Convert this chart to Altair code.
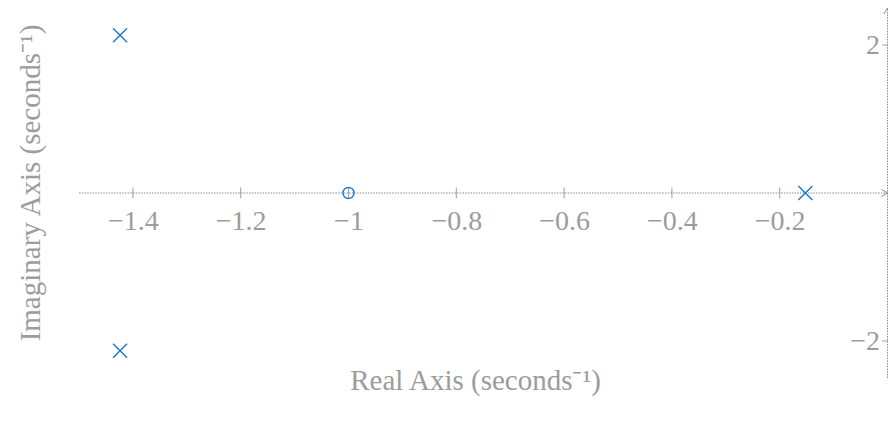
import altair as alt
import pandas as pd

# ---- data ----
pole_re = [-1.4238, -1.4238, -0.1524]
pole_im = [2.1331, -2.1331, 0.0]
zero_re = [-1.0]
zero_im = [0.0]
x_ticks = [-1.4, -1.2, -1.0, -0.8, -0.6, -0.4, -0.2]
y_ticks = [-2, 2]
x_domain = [-1.5, 0.0]
y_domain = [-2.5, 2.5]

W, H = 808.5, 370
PAD_L = 71
FONT = "Liberation Serif"
TXT = "#9c9c9c"
AX = "#8a8a8a"
BLUE = "#1a78d0"

poles = pd.DataFrame({"re": pole_re, "im": pole_im})
zeros = pd.DataFrame({"re": zero_re, "im": zero_im})
xaxis_line = pd.DataFrame({"re": [x_domain[0]], "re2": [x_domain[1]], "im": [0.0]})
yaxis_line = pd.DataFrame({"re": [x_domain[1]], "im": [y_domain[0]], "im2": [y_domain[1]]})
xt = pd.DataFrame({"re": x_ticks, "im": [0.0] * len(x_ticks)})
yt = pd.DataFrame({"re": [0.0] * len(y_ticks), "im": y_ticks})
arrow_x = pd.DataFrame({"re": [x_domain[1]], "im": [0.0]})
arrow_y = pd.DataFrame({"re": [x_domain[1]], "im": [y_domain[1]]})

minus_expr = "replace(format(datum.value, ''), '-', '\u2212')"


def X():
    return alt.X(
        "re:Q",
        scale=alt.Scale(domain=x_domain, nice=False, zero=False),
        axis=alt.Axis(
            values=x_ticks, orient="bottom", offset=-H / 2, domain=False,
            ticks=False, tickSize=0, grid=False,
            labelFont=FONT, labelFontSize=28, labelColor=TXT,
            labelPadding=36, labelBaseline="alphabetic", labelExpr=minus_expr,
            title="Real Axis (seconds\u207b\u00b9)", titleFont=FONT,
            titleFontSize=29, titleColor=TXT, titleFontWeight="normal",
            titleBaseline="alphabetic", titleAlign="center",
            titleX=396, titleY=196,
        ),
    )


def Y():
    return alt.Y(
        "im:Q",
        scale=alt.Scale(domain=y_domain, nice=False, zero=False),
        axis=alt.Axis(
            values=y_ticks, orient="left", offset=-W, domain=False,
            ticks=False, tickSize=0, grid=False,
            labelFont=FONT, labelFontSize=28, labelColor=TXT,
            labelPadding=8, labelBaseline="middle", labelExpr=minus_expr,
            title="Imaginary Axis (seconds\u207b\u00b9)", titleFont=FONT,
            titleFontSize=29, titleColor=TXT, titleFontWeight="normal",
            titleBaseline="alphabetic", titleAlign="center", titleAngle=-90,
            titleX=39.5 - (8 + PAD_L + W), titleY=174.5,
        ),
    )


xline = alt.Chart(xaxis_line).mark_rule(color=AX, strokeWidth=1, strokeDash=[1.5, 1.2]).encode(
    x=X(), x2="re2:Q", y=Y())
yline = alt.Chart(yaxis_line).mark_rule(color=AX, strokeWidth=1, strokeDash=[1.5, 1.2]).encode(
    x=X(), y=Y(), y2="im2:Q")
xtick = alt.Chart(xt).mark_tick(orient="vertical", size=11, thickness=1, color="#777777").encode(
    x=X(), y=Y())
ytick = alt.Chart(yt).mark_tick(orient="horizontal", size=11, thickness=1, color="#777777").encode(
    x=X(), y=Y())
arrx = alt.Chart(arrow_x).mark_point(
    shape="M-1,-0.6L0,0L-1,0.6", size=144, filled=False, color=AX, strokeWidth=1, opacity=1
).encode(x=X(), y=Y())
arry = alt.Chart(arrow_y).mark_point(
    shape="M-0.6,1L0,0L0.6,1", size=144, filled=False, color=AX, strokeWidth=1, opacity=1
).encode(x=X(), y=Y())
pole_mark = alt.Chart(poles).mark_point(
    shape="M-1,-1L1,1M1,-1L-1,1", size=196, filled=False, color=BLUE, strokeWidth=1.4, opacity=1
).encode(x=X(), y=Y())
zero_mark = alt.Chart(zeros).mark_point(
    shape="circle", size=121, filled=False, color=BLUE, strokeWidth=1.4, opacity=1
).encode(x=X(), y=Y())

chart = alt.layer(xline, yline, xtick, ytick, arrx, arry, zero_mark, pole_mark).properties(
    width=W, height=H,
    autosize=alt.AutoSizeParams(type="none"),
    padding={"left": PAD_L, "top": 0, "right": 880 - PAD_L - W, "bottom": 30},
    background="white",
).configure_view(stroke=None)

chart.save("out.html", embed_options={"renderer": "svg", "actions": False})
